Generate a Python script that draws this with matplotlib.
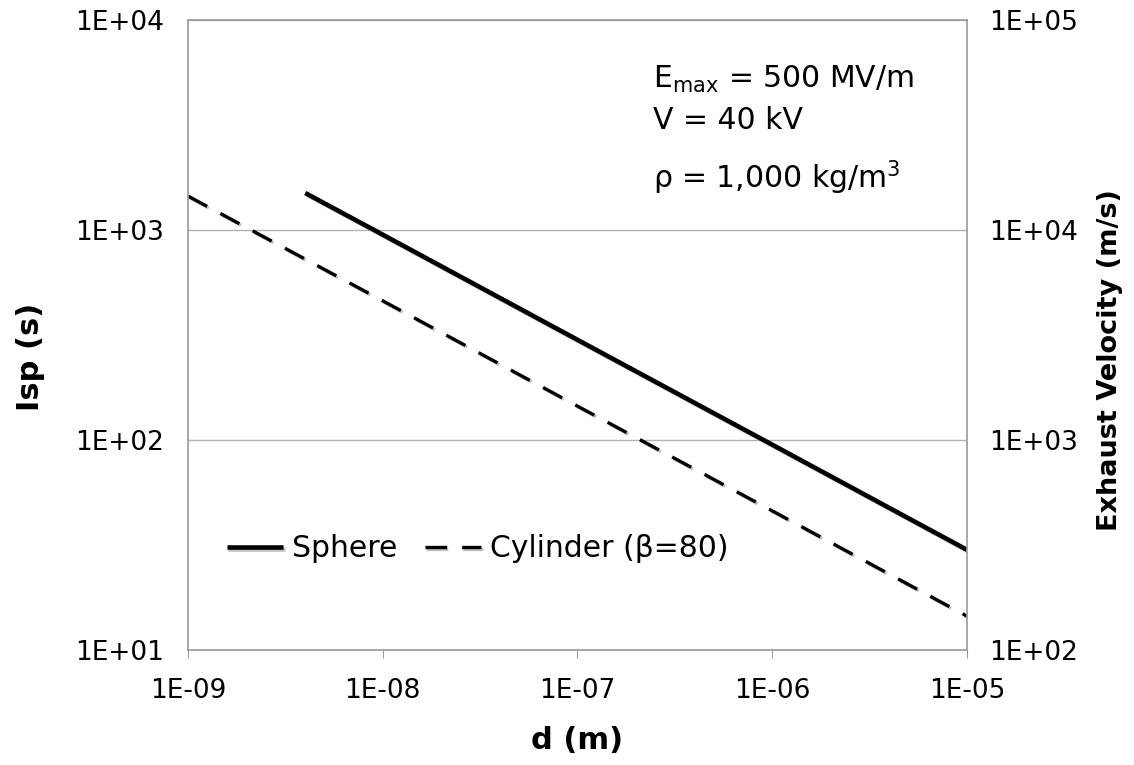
import numpy as np
import matplotlib.pyplot as plt
import matplotlib.patheffects as pe
from matplotlib.ticker import FixedLocator, FuncFormatter, NullLocator

# diámetro de gota (m) e impulso específico (s)
d_esfera = [4e-9, 1e-8, 1e-7, 1e-6, 1e-5]
isp_esfera = [1500, 950, 300, 95, 30]

d_cilindro = [1e-9, 1e-8, 1e-7, 1e-6, 1e-5]
isp_cilindro = [1450, 460, 145, 46, 14.5]

g0 = 10.0  # eje derecho: velocidad de escape = g0 * Isp

ticks_x = [1e-9, 1e-8, 1e-7, 1e-6, 1e-5]
ticks_y = [1e1, 1e2, 1e3, 1e4]
ticks_v = [1e2, 1e3, 1e4, 1e5]

plt.rcParams['font.family'] = 'DejaVu Sans'


def fmt_excel(v, pos):
    e = int(round(np.log10(v)))
    signo = '+' if e >= 0 else '-'
    return f"1E{signo}{abs(e):02d}"


fig = plt.figure(figsize=(11.34, 7.65), dpi=100)
ax = fig.add_axes([0.1658, 0.1503, 0.6869, 0.8236])

sombra = [pe.SimpleLineShadow(offset=(1.2, -1.2), shadow_color='0.6', alpha=0.6), pe.Normal()]

ax.plot(d_esfera, isp_esfera, color='black', lw=3.3, solid_capstyle='butt',
        label='Sphere', path_effects=sombra)
ax.plot(d_cilindro, isp_cilindro, color='black', lw=2.4, dashes=(6.5, 4.5),
        label='Cylinder (\u03b2=80)', path_effects=sombra)

ax.set_xscale('log')
ax.set_yscale('log')
ax.set_xlim(1e-9, 1e-5)
ax.set_ylim(1e1, 1e4)

ax.xaxis.set_major_locator(FixedLocator(ticks_x))
ax.xaxis.set_minor_locator(NullLocator())
ax.yaxis.set_major_locator(FixedLocator(ticks_y))
ax.yaxis.set_minor_locator(NullLocator())
ax.xaxis.set_major_formatter(FuncFormatter(fmt_excel))
ax.yaxis.set_major_formatter(FuncFormatter(fmt_excel))
ax.tick_params(axis='x', labelsize=19, length=6, color='0.6', pad=14)
ax.tick_params(axis='y', labelsize=19, length=0, pad=17)

ax.grid(axis='y', color='0.7', lw=1.0)
for s in ax.spines.values():
    s.set_color('0.6')
    s.set_linewidth(1.2)

ax.set_xlabel('d (m)', fontsize=22, fontweight='bold', labelpad=16)
ax.set_ylabel('Isp (s)', fontsize=22, fontweight='bold')
ax.yaxis.set_label_coords(-0.183, 0.465)

ax2 = ax.twinx()
ax2.set_yscale('log')
ax2.set_ylim(1e1 * g0, 1e4 * g0)
ax2.yaxis.set_major_locator(FixedLocator(ticks_v))
ax2.yaxis.set_minor_locator(NullLocator())
ax2.yaxis.set_major_formatter(FuncFormatter(fmt_excel))
ax2.tick_params(axis='y', labelsize=19, length=0, pad=16)
for s in ax2.spines.values():
    s.set_visible(False)
ax2.set_ylabel('Exhaust Velocity (m/s)', fontsize=19.5, fontweight='bold')
ax2.yaxis.set_label_coords(1.167, 0.46)

txt = dict(transform=ax.transAxes, fontsize=21.5, ha='left', va='center')
ax.text(0.597, 0.905, 'E$_\\mathregular{max}$ = 500 MV/m', **txt)
ax.text(0.597, 0.84, 'V = 40 kV', **txt)
ax.text(0.597, 0.75, '\u03c1 = 1,000 kg/m$^\\mathregular{3}$', **txt)

ax.legend(loc='lower left', bbox_to_anchor=(0.015, 0.095), ncol=2, frameon=False,
          fontsize=21.5, handlelength=1.9, handletextpad=0.3, columnspacing=0.9)

fig.savefig('out.png', dpi=100)
